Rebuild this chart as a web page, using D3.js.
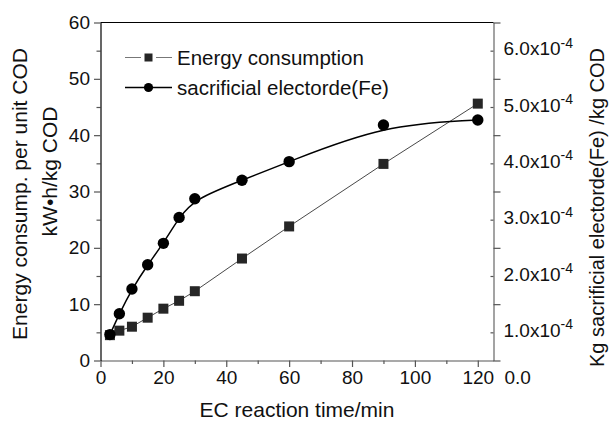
<!DOCTYPE html>
<html lang="en">
<head>
<meta charset="UTF-8">
<title>Energy consumption and sacrificial electrode vs EC reaction time</title>
<script src="https://d3js.org/d3.v7.min.js"></script>
<style>
  body { margin: 0; background: #fff; }
  svg { font-family: "Liberation Sans", Arial, sans-serif; }
</style>
</head>
<body>
<div id="chart"></div>
<script>
    // values
    const timeMin = [3, 6, 10, 15, 20, 25, 30, 45, 60, 90, 120];
    const energy = [4.5, 5.3, 6.0, 7.6, 9.2, 10.6, 12.3, 18.1, 23.8, 34.9, 45.6];   // kW.h/kg COD
    const feE4 = [0.96, 1.33, 1.77, 2.20, 2.58, 3.04, 3.37, 3.70, 4.03, 4.68, 4.77]; // x1e-4 kg/kg COD
    const xTicks = [0, 20, 40, 60, 80, 100, 120];
    const yLeftTicks = [0, 10, 20, 30, 40, 50, 60];
    const yRightTicks = [1, 2, 3, 4, 5, 6];
    const seriesNames = ["Energy consumption", "sacrificial electorde(Fe)"];

    const W = 611, H = 423;
    const margin = {top: 22.5, right: 117.5, bottom: 62.5, left: 100.5};
    const width = W - margin.left - margin.right;
    const height = H - margin.top - margin.bottom;

    const svg = d3.select("#chart")
        .append("svg")
        .attr("width", W)
        .attr("height", H)
        .append("g")
        .attr("transform", "translate(" + margin.left + "," + margin.top + ")");

    const x = d3.scaleLinear().domain([0, 125]).range([0, width]);
    const y = d3.scaleLinear().domain([0, 60]).range([height, 0]);
    const yR = d3.scaleLinear().domain([0.5, 6.5]).range([height, 0]);

    const tickCol = "#555";
    const fs = "19px";
    const titleFs = "21px";

    function styleAxis(g, lineCol) {
        g.select(".domain").attr("stroke", lineCol).attr("stroke-width", 1.2);
        g.selectAll(".tick line").attr("stroke", tickCol).attr("stroke-width", 1.2);
        g.selectAll(".tick text").attr("fill", "#111").style("font-size", fs);
    }

    // bottom axis
    svg.append("g")
        .attr("transform", "translate(0," + height + ")")
        .call(d3.axisBottom(x).tickValues(d3.range(10, 121, 20)).tickSize(3.5).tickFormat(""))
        .call(g => g.select(".domain").remove())
        .call(g => g.selectAll(".tick line").attr("stroke", tickCol).attr("stroke-width", 1.2));
    svg.append("g")
        .attr("transform", "translate(0," + height + ")")
        .call(d3.axisBottom(x).tickValues(xTicks).tickSize(6.5).tickSizeOuter(0).tickPadding(4))
        .call(g => styleAxis(g, tickCol));

    // "0.0" of the right axis sits in the tick-label row
    svg.append("text")
        .attr("x", width + 11)
        .attr("y", height + 10.5)
        .attr("dy", "0.71em")
        .style("font-size", fs)
        .attr("fill", "#111")
        .text("0.0");

    // right axis
    svg.append("g")
        .attr("transform", "translate(" + width + ",0)")
        .call(d3.axisRight(yR).tickValues(d3.range(0.5, 6.6, 1)).tickSize(7).tickSizeOuter(0).tickFormat(""))
        .call(g => styleAxis(g, "#666"));
    svg.append("g")
        .attr("transform", "translate(" + width + ",0)")
        .call(d3.axisRight(yR).tickValues(yRightTicks).tickSize(-3).tickPadding(10))
        .call(g => g.select(".domain").remove())
        .call(g => styleAxis(g, "#666"))
        .call(g => g.selectAll(".tick text")
            .attr("dy", "0.22em")
            .each(function(d) {
                const t = d3.select(this).text("");
                t.append("tspan").text(d.toFixed(1) + "x10");
                t.append("tspan").attr("dy", "-0.55em").style("font-size", "14px").text("-4");
            }));

    // left axis
    svg.append("g")
        .call(d3.axisLeft(y).tickValues(d3.range(5, 60, 10)).tickSize(4).tickFormat(""))
        .call(g => g.select(".domain").remove())
        .call(g => g.selectAll(".tick line").attr("stroke", tickCol).attr("stroke-width", 1.2));
    svg.append("g")
        .call(d3.axisLeft(y).tickValues(yLeftTicks).tickSize(6.5).tickSizeOuter(0).tickPadding(4))
        .call(g => styleAxis(g, "#000"));

    // top frame
    svg.append("line")
        .attr("x1", 0).attr("x2", width)
        .attr("y1", 0).attr("y2", 0)
        .attr("stroke", "#000").attr("stroke-width", 1.2);

    const pts = timeMin.map((t, i) => ({t: t, e: energy[i], fe: feE4[i]}));

    // energy consumption: thin straight segments + squares
    svg.append("path")
        .datum(pts)
        .attr("fill", "none")
        .attr("stroke", "#333")
        .attr("stroke-width", 0.9)
        .attr("d", d3.line().x(d => x(d.t)).y(d => y(d.e)));

    const sq = 10;
    svg.selectAll(".sq")
        .data(pts)
        .enter().append("rect")
        .attr("class", "sq")
        .attr("x", d => x(d.t) - sq / 2)
        .attr("y", d => y(d.e) - sq / 2)
        .attr("width", sq).attr("height", sq)
        .attr("fill", "#262626");

    // sacrificial electrode: B-spline through circles
    svg.append("path")
        .datum(pts)
        .attr("fill", "none")
        .attr("stroke", "#000")
        .attr("stroke-width", 1.5)
        .attr("d", d3.line().curve(d3.curveBasis).x(d => x(d.t)).y(d => yR(d.fe)));

    svg.selectAll(".dot")
        .data(pts)
        .enter().append("circle")
        .attr("class", "dot")
        .attr("cx", d => x(d.t))
        .attr("cy", d => yR(d.fe))
        .attr("r", 5.7)
        .attr("fill", "#000");

    // legend
    const legend = svg.append("g").attr("transform", "translate(24.5,35)");
    seriesNames.forEach((name, i) => {
        const row = legend.append("g").attr("transform", "translate(0," + (i * 30) + ")");
        if (i === 0) {
            row.append("line").attr("x1", 0).attr("x2", 16).attr("stroke", "#777").attr("stroke-width", 1);
            row.append("line").attr("x1", 31).attr("x2", 47).attr("stroke", "#777").attr("stroke-width", 1);
            row.append("rect").attr("x", 19.5).attr("y", -4).attr("width", 8).attr("height", 8).attr("fill", "#262626");
        } else {
            row.append("line").attr("x1", 0).attr("x2", 47).attr("stroke", "#000").attr("stroke-width", 1.5);
            row.append("circle").attr("cx", 23.5).attr("cy", 0).attr("r", 4.6).attr("fill", "#000");
        }
        row.append("text")
            .attr("x", 52)
            .attr("dy", "0.35em")
            .style("font-size", "20.5px")
            .attr("fill", "#111")
            .text(name);
    });

    // axis titles
    svg.append("text")
        .attr("x", width / 2)
        .attr("y", height + 56)
        .attr("text-anchor", "middle")
        .style("font-size", titleFs)
        .attr("fill", "#111")
        .text("EC reaction time/min");

    svg.append("text")
        .attr("transform", "translate(-80.5," + (height / 2 + 2.5) + ") rotate(-90)")
        .attr("text-anchor", "middle")
        .attr("dy", "0.35em")
        .style("font-size", titleFs)
        .attr("fill", "#111")
        .text("Energy consump. per unit COD");

    svg.append("text")
        .attr("transform", "translate(-50.5," + (height / 2 - 20) + ") rotate(-90)")
        .attr("text-anchor", "middle")
        .attr("dy", "0.35em")
        .style("font-size", titleFs)
        .attr("fill", "#111")
        .text("kW\u2022h/kg COD");

    svg.append("text")
        .attr("transform", "translate(" + (width + 104.5) + "," + (height / 2 + 16) + ") rotate(-90)")
        .attr("text-anchor", "middle")
        .attr("dy", "0.3em")
        .style("font-size", "20px")
        .attr("fill", "#111")
        .text("Kg sacrificial electorde(Fe) /kg COD");
</script>
</body>
</html>
